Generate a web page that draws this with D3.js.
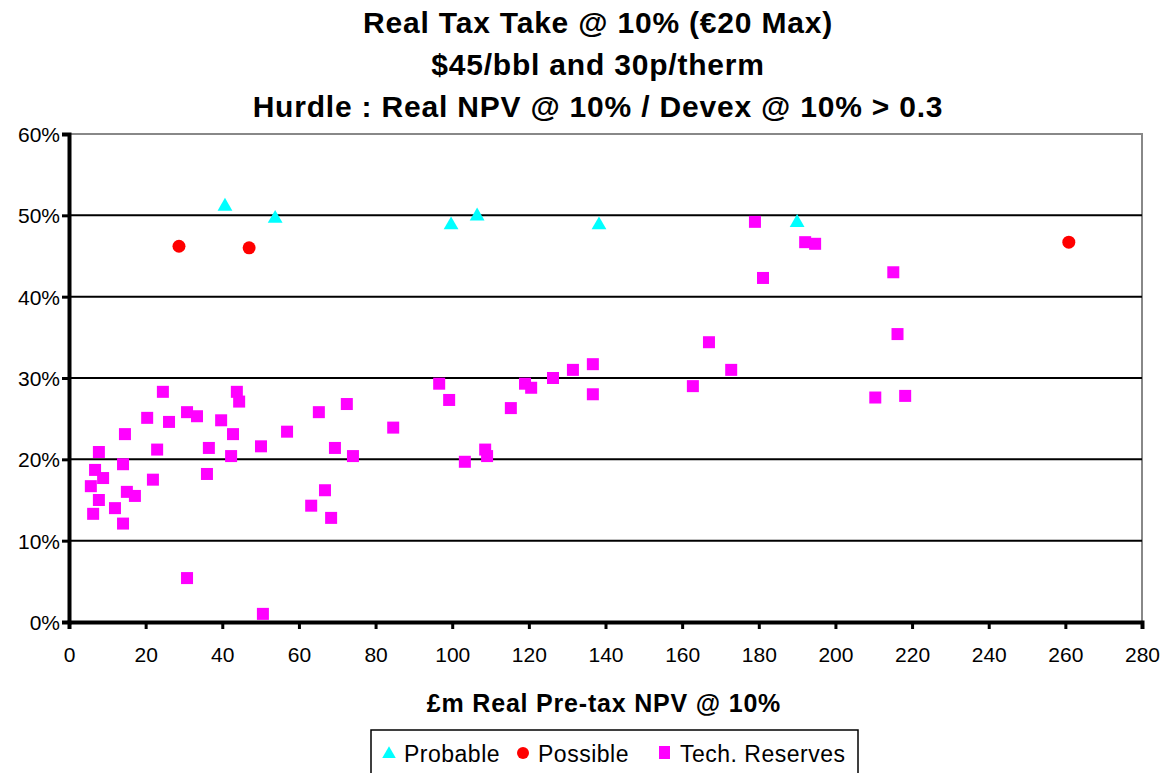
<!DOCTYPE html>
<html>
<head>
<meta charset="utf-8">
<script src="https://cdn.jsdelivr.net/npm/d3@7"></script>
<style>
  body { margin: 0; background: #fff; }
  text { font-family: "Liberation Sans", Arial, sans-serif; }
</style>
</head>
<body>
<div id="chart"></div>
<script>
// data: x = £m real pre-tax NPV, y = real tax take (%)
var probable_x = [40.7, 53.8, 99.7, 106.5, 138.3, 190.0];
var probable_y = [51.1, 49.6, 48.8, 49.9, 48.8, 49.1];

var possible_x = [28.7, 47.0, 260.9];
var possible_y = [46.2, 46.0, 46.7];

var tech_x = [5.7, 6.8, 7.8, 8.9, 7.8, 6.3, 12.0, 14.1, 14.1, 14.6, 15.1, 17.2, 20.4, 21.9, 23.0, 24.5,
              26.1, 30.8, 30.8, 33.4, 36.0, 36.5, 39.7, 42.3, 42.8, 43.8, 44.4, 50.1, 50.6, 56.9, 63.2,
              65.2, 66.8, 68.4, 69.4, 72.5, 74.1, 84.6, 96.6, 99.2, 103.3, 108.6, 109.1, 115.3, 119.0,
              120.6, 126.3, 131.5, 136.7, 136.7, 162.8, 167.0, 172.8, 179.0, 181.1, 192.1, 194.7,
              215.1, 216.2, 210.4, 218.2];
var tech_y = [16.7, 18.7, 20.9, 17.7, 15.0, 13.3, 14.0, 12.1, 19.4, 23.1, 16.0, 15.5, 25.1, 17.5, 21.2, 28.3,
              24.6, 25.8, 5.4, 25.3, 18.2, 21.4, 24.8, 20.4, 23.1, 28.3, 27.1, 21.6, 1.0, 23.4, 14.3,
              25.8, 16.2, 12.8, 21.4, 26.8, 20.4, 23.9, 29.3, 27.3, 19.7, 21.2, 20.4, 26.3, 29.3,
              28.8, 30.0, 31.0, 31.7, 28.0, 29.0, 34.4, 31.0, 49.2, 42.3, 46.7, 46.5,
              43.0, 35.4, 27.6, 27.8];

var x_ticks = d3.range(0, 281, 20);
var y_ticks = [0, 10, 20, 30, 40, 50, 60];

var titulo = ["Real Tax Take @ 10% (€20 Max)", "$45/bbl and 30p/therm", "Hurdle : Real NPV @ 10% / Devex @ 10% > 0.3"];
var legenda = ["Probable", "Possible", "Tech. Reserves"];

var width = 1169, height = 773;
var margem = {left: 69, right: 27, top: 134, bottom: 151};

var svg = d3.select("#chart")
            .append("svg")
            .attr("width", width)
            .attr("height", height);

var x = d3.scaleLinear()
          .domain([0, 280])
          .range([margem.left, width - margem.right]);

var y = d3.scaleLinear()
          .domain([0, 60])
          .range([height - margem.bottom, margem.top]);

// titulo
svg.append("g")
   .selectAll("text")
   .data(titulo)
   .enter()
   .append("text")
   .attr("x", 598)
   .attr("y", function(d, i){ return 33 + i * 42; })
   .attr("text-anchor", "middle")
   .style("font-size", "30px")
   .style("font-weight", "bold")
   .style("letter-spacing", "0.8px")
   .text(function(d){ return d; });

// borda do grafico (cinza)
svg.append("rect")
   .attr("x", x(0))
   .attr("y", y(60))
   .attr("width", x(280) - x(0))
   .attr("height", y(0) - y(60))
   .style("fill", "none")
   .style("stroke", "#888")
   .style("stroke-width", 2);

// linhas de grade
svg.append("g")
   .selectAll("line")
   .data(y_ticks.filter(function(d){ return d > 0 && d < 60; }))
   .enter()
   .append("line")
   .attr("x1", x(0))
   .attr("x2", x(280))
   .attr("y1", function(d){ return y(d); })
   .attr("y2", function(d){ return y(d); })
   .style("stroke", "#000")
   .style("stroke-width", 2);

// eixos
var yAxis = d3.axisLeft(y)
              .tickValues(y_ticks)
              .tickSize(7)
              .tickFormat(function(d){ return d + "%"; });

var xAxis = d3.axisBottom(x)
              .tickValues(x_ticks)
              .tickSize(7)
              .tickFormat(d3.format("d"));

var gy = svg.append("g")
            .attr("transform", "translate(" + x(0) + ",0)")
            .call(yAxis);

var gx = svg.append("g")
            .attr("transform", "translate(0," + y(0) + ")")
            .call(xAxis);

[gx, gy].forEach(function(g){
    g.select(".domain").style("stroke", "#000").style("stroke-width", 4);
    g.selectAll(".tick line").style("stroke", "#000").style("stroke-width", 3);
    g.selectAll(".tick text")
     .style("font-size", "21px")
     .style("fill", "#000");
});
gy.selectAll(".tick text").attr("x", -9).attr("dy", "0.35em");
gx.selectAll(".tick text").attr("y", 25);

// titulo do eixo x
svg.append("text")
   .attr("x", 604)
   .attr("y", 712)
   .attr("text-anchor", "middle")
   .style("font-size", "25px")
   .style("font-weight", "bold")
   .style("letter-spacing", "0.8px")
   .text("£m Real Pre-tax NPV @ 10%");

// pontos
var tri = d3.symbol().type(d3.symbolTriangle).size(95);

svg.append("g")
   .selectAll("rect")
   .data(tech_x)
   .enter()
   .append("rect")
   .attr("x", function(d){ return x(d) - 6; })
   .attr("y", function(d, i){ return y(tech_y[i]) - 6; })
   .attr("width", 12)
   .attr("height", 12)
   .style("fill", "#ff00ff");

svg.append("g")
   .selectAll("circle")
   .data(possible_x)
   .enter()
   .append("circle")
   .attr("cx", function(d){ return x(d); })
   .attr("cy", function(d, i){ return y(possible_y[i]); })
   .attr("r", 6.5)
   .style("fill", "#ff0000");

svg.append("g")
   .selectAll("path")
   .data(probable_x)
   .enter()
   .append("path")
   .attr("d", tri)
   .attr("transform", function(d, i){ return "translate(" + x(d) + "," + y(probable_y[i]) + ")"; })
   .style("fill", "#00ffff");

// legenda
var leg = svg.append("g");

leg.append("rect")
   .attr("x", 371)
   .attr("y", 730)
   .attr("width", 487)
   .attr("height", 60)
   .style("fill", "#fff")
   .style("stroke", "#000")
   .style("stroke-width", 1.5);

var leg_x = [389, 523, 665];

leg.append("path")
   .attr("d", d3.symbol().type(d3.symbolTriangle).size(80))
   .attr("transform", "translate(" + leg_x[0] + ",754)")
   .style("fill", "#00ffff");

leg.append("circle")
   .attr("cx", leg_x[1])
   .attr("cy", 753)
   .attr("r", 6)
   .style("fill", "#ff0000");

leg.append("rect")
   .attr("x", leg_x[2] - 6)
   .attr("y", 746)
   .attr("width", 11)
   .attr("height", 13)
   .style("fill", "#ff00ff");

leg.selectAll("text.leg")
   .data(legenda)
   .enter()
   .append("text")
   .attr("class", "leg")
   .attr("x", function(d, i){ return leg_x[i] + 15; })
   .attr("y", 762)
   .style("font-size", "23px")
   .style("letter-spacing", "0.5px")
   .text(function(d){ return d; });
</script>
</body>
</html>
